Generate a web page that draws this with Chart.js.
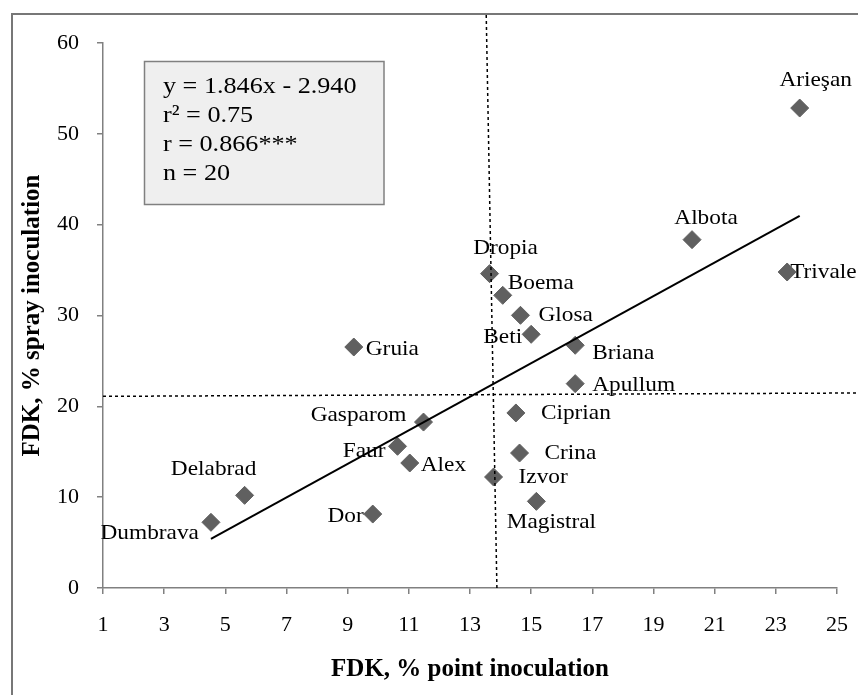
<!DOCTYPE html>
<html>
<head>
<meta charset="utf-8">
<script src="https://cdn.jsdelivr.net/npm/chart.js@4.4.1/dist/chart.umd.min.js"></script>
<style>
  body { margin: 0; background: #fff; }
</style>
</head>
<body>
<canvas id="chart-fdk" width="858" height="695"></canvas>
<script>
// cultivars and their FDK values
const cultivars = ['Arieşan', 'Albota', 'Trivale', 'Dropia', 'Boema', 'Glosa', 'Beti', 'Briana', 'Apullum', 'Ciprian',
  'Crina', 'Izvor', 'Magistral', 'Gruia', 'Gasparom', 'Faur', 'Alex', 'Delabrad', 'Dumbrava', 'Dor'];
const pointInoc = [23.78, 20.26, 23.37, 13.64, 14.07, 14.65, 15.0, 16.44, 16.44, 14.5,
  14.62, 13.77, 15.17, 9.2, 11.48, 10.63, 11.03, 5.63, 4.53, 9.82];
const sprayInoc = [52.84, 38.35, 34.79, 34.61, 32.22, 30.02, 27.93, 26.72, 22.5, 19.27,
  14.86, 12.22, 9.54, 26.53, 18.27, 15.6, 13.76, 10.2, 7.23, 8.14];

// regression line ends and the two dotted mean lines
const trendX = [4.53, 23.78];
const trendY = [5.4, 40.98];
const meanVX = [13.88, 13.53];
const meanVY = [0, 63.2];
const meanHX = [1, 25.7];
const meanHY = [21.1, 21.47];

const xTicks = [1, 3, 5, 7, 9, 11, 13, 15, 17, 19, 21, 23, 25];
const yTicks = [0, 10, 20, 30, 40, 50, 60];

const statsLines = ['y = 1.846x - 2.940', 'r\u00B2 = 0.75', 'r = 0.866***', 'n = 20'];

// label placement around each diamond: dx, dy, align
const labelPos = [
  [16, -28, 'center'], [14, -21, 'center'], [3, 0, 'left'], [16, -25, 'center'], [5, -12, 'left'],
  [18, 0, 'left'], [-9, 3, 'right'], [17, 8, 'left'], [17, 2, 'left'], [25, 0, 'left'],
  [25, 0, 'left'], [25, 0, 'left'], [15, 21, 'center'], [12, 2, 'left'], [-17, -7, 'right'],
  [-12, 5, 'right'], [11, 2, 'left'], [-31, -26, 'center'], [-12, 11, 'right'], [-9, 2, 'right']
];

const serif = "'Liberation Serif', 'Times New Roman', serif";

function pairs(xs, ys) {
  return xs.map((x, i) => ({x: x, y: ys[i]}));
}

// text drawn a bit wider than the font, like the original export
function wideText(ctx, text, x, y, align, sx) {
  const w = ctx.measureText(text).width * sx;
  let left = x;
  if (align === 'center') left = x - w / 2;
  if (align === 'right') left = x - w;
  ctx.save();
  ctx.translate(left, y);
  ctx.scale(sx, 1);
  ctx.textAlign = 'left';
  ctx.fillText(text, 0, 0);
  ctx.restore();
}

const framePlugin = {
  id: 'frame',
  beforeDraw(chart) {
    const ctx = chart.ctx;
    ctx.save();
    ctx.fillStyle = '#fff';
    ctx.fillRect(0, 0, chart.width, chart.height);
    ctx.strokeStyle = '#777';
    ctx.lineWidth = 2;
    ctx.beginPath();
    ctx.moveTo(12, chart.height);
    ctx.lineTo(12, 14);
    ctx.lineTo(chart.width, 14);
    ctx.stroke();
    ctx.restore();
  }
};

const labelPlugin = {
  id: 'pointLabels',
  beforeDatasetsDraw(chart) {
    const ctx = chart.ctx;
    const xs = chart.scales.x, ys = chart.scales.y;
    ctx.save();
    ctx.font = '22px ' + serif;
    ctx.fillStyle = '#000';
    ctx.textBaseline = 'middle';
    cultivars.forEach((name, i) => {
      const p = labelPos[i];
      wideText(ctx, name, xs.getPixelForValue(pointInoc[i]) + p[0], ys.getPixelForValue(sprayInoc[i]) + p[1], p[2], 1.06);
    });

    // stats box
    ctx.fillStyle = '#efefef';
    ctx.fillRect(144.5, 61.5, 239.5, 143);
    ctx.strokeStyle = '#808080';
    ctx.lineWidth = 1.5;
    ctx.strokeRect(144.5, 61.5, 239.5, 143);
    ctx.fillStyle = '#000';
    ctx.font = '24px ' + serif;
    ctx.textBaseline = 'alphabetic';
    statsLines.forEach((t, i) => {
      wideText(ctx, t, 163, 93 + i * 29, 'left', 1.09);
    });
    ctx.restore();
  }
};

const dataFdk = {
  datasets: [
    {
      label: 'cultivars',
      data: pairs(pointInoc, sprayInoc),
      pointStyle: 'rectRot',
      pointRadius: 9,
      pointBorderWidth: 1,
      backgroundColor: '#606060',
      borderColor: '#606060',
      order: 2
    },
    {
      label: 'trend',
      data: pairs(trendX, trendY),
      showLine: true,
      borderColor: '#000',
      borderWidth: 2,
      pointRadius: 0,
      order: 1
    },
    {
      label: 'mean point',
      data: pairs(meanVX, meanVY),
      showLine: true,
      borderColor: '#000',
      borderWidth: 1.5,
      borderDash: [3, 3],
      pointRadius: 0,
      clip: false,
      order: 0
    },
    {
      label: 'mean spray',
      data: pairs(meanHX, meanHY),
      showLine: true,
      borderColor: '#000',
      borderWidth: 1.5,
      borderDash: [3, 3],
      pointRadius: 0,
      clip: false,
      order: 0
    }
  ]
};

const configFdk = {
  type: 'scatter',
  data: dataFdk,
  plugins: [framePlugin, labelPlugin],
  options: {
    responsive: false,
    animation: false,
    devicePixelRatio: 1,
    layout: {
      padding: {left: 0, top: 43, right: 21, bottom: 0}
    },
    plugins: {
      legend: {display: false},
      tooltip: {enabled: false}
    },
    scales: {
      x: {
        type: 'linear',
        min: 1,
        max: 25,
        afterBuildTicks: s => { s.ticks = xTicks.map(v => ({value: v})); },
        afterFit: s => { s.height = 107; s.paddingLeft = 0; s.paddingRight = 0; },
        border: {color: '#808080', width: 1.5},
        grid: {drawOnChartArea: false, drawTicks: true, tickLength: 6, color: '#808080', lineWidth: 1.5},
        ticks: {padding: 18, color: '#000', font: {family: serif, size: 22}},
        title: {
          display: true,
          text: 'FDK, % point inoculation',
          color: '#000',
          font: {family: serif, size: 25, weight: 'bold'},
          padding: {top: 0, bottom: 10}
        }
      },
      y: {
        type: 'linear',
        min: 0,
        max: 60,
        afterBuildTicks: s => { s.ticks = yTicks.map(v => ({value: v})); },
        afterFit: s => { s.width = 103; },
        border: {color: '#808080', width: 1.5},
        grid: {drawOnChartArea: false, drawTicks: true, tickLength: 6, color: '#808080', lineWidth: 1.5},
        ticks: {padding: 18, color: '#000', font: {family: serif, size: 22}},
        title: {
          display: true,
          text: 'FDK, % spray inoculation',
          color: '#000',
          font: {family: serif, size: 25, weight: 'bold'},
          padding: {top: 18, bottom: 0}
        }
      }
    }
  }
};

const chartFdk = new Chart(
  document.getElementById('chart-fdk'),
  configFdk
);
</script>
</body>
</html>
